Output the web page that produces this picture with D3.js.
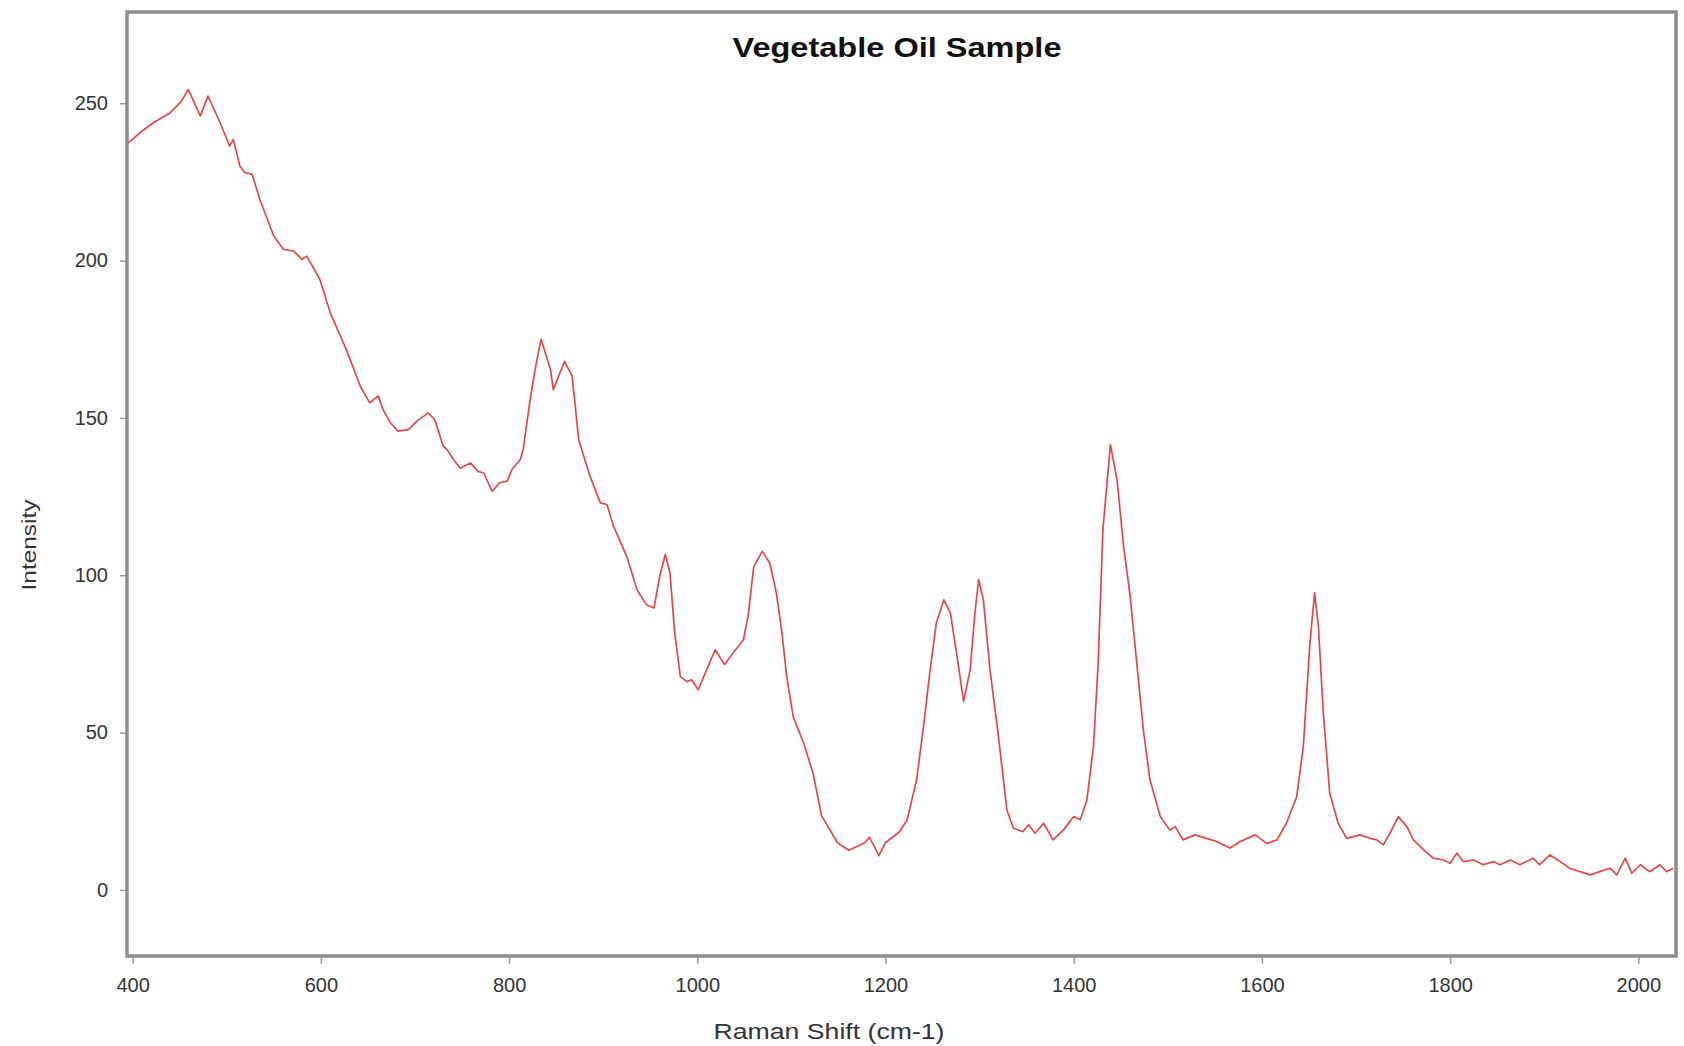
<!DOCTYPE html>
<html><head><meta charset="utf-8">
<script src="https://cdn.jsdelivr.net/npm/d3@7"></script>
<style>body{margin:0;background:#fff}svg{display:block}</style>
</head><body>
<svg id="chart" width="1684" height="1046"></svg>
<script>
const chartTitle = "Vegetable Oil Sample";
const xTitle = "Raman Shift (cm-1)";
const yTitle = "Intensity";

const ramanShift = [394,408,422,440,452,459,472,480,493,503,507,514,519,527,535,550,560,571,580,585,599,610,613,627,642,652,661,666,674,682,693,702,714,721,730,734,741,748,759,767,773,782,790,798,803,812,815,822,828,834,844,847,859,867,874,886,897,904,911,925,936,946,954,960,966,971,976,982,989,994,1001,1010,1019,1029,1038,1049,1054,1060,1069,1077,1084,1090,1095,1102,1113,1123,1132,1149,1161,1178,1183,1193,1200,1215,1223,1233,1240,1247,1254,1262,1269,1276,1283,1290,1295,1299,1304,1311,1320,1329,1336,1346,1352,1359,1368,1378,1389,1400,1407,1414,1421,1426,1431,1439,1446,1453,1460,1467,1474,1481,1492,1502,1508,1516,1529,1541,1552,1566,1577,1593,1605,1616,1626,1637,1644,1651,1656,1660,1665,1672,1681,1690,1704,1715,1722,1729,1736,1745,1754,1761,1772,1782,1793,1800,1807,1814,1825,1835,1846,1853,1864,1874,1888,1895,1906,1917,1927,1938,1949,1959,1970,1977,1986,1993,2002,2012,2023,2030,2037];
const intensity = [237,240.7,243.8,247,250.7,254.4,246,252.3,243.8,236.4,238.5,230,228,227.4,219.5,207.8,203.6,203,200.4,201.4,194,183.4,181.3,171.8,160,154.8,157,152.7,148.4,145.8,146.3,149,151.6,149.5,141,140,136.8,134,135.7,133,132.5,126.7,129.4,129.9,133.6,136.8,140,155,166,175,165.4,159,168,163.3,143,131.5,123,122.5,115.6,106,95.4,90.6,89.6,99.6,106.6,100.7,81.6,67.8,66.2,66.8,63.6,70,76.3,71.6,75.3,79.5,87,102.8,107.6,103.9,94.4,81.6,67.8,55,46.7,37.1,23.6,15,12.6,15,16.7,10.9,15,18.5,22.3,35,50.9,68.9,84.8,92.2,88,74.2,59.9,70,88,98.6,92.2,70,48.8,25.4,19.6,18.5,20.7,18,21.2,15.9,19,23.3,22.3,28.6,45.6,72.1,114.5,141.5,130.4,109.2,93.3,72.1,50.9,35,23.3,19,20.1,15.9,17.5,16.4,15.4,13.3,15.4,17.5,14.8,15.9,21.2,29.7,45.6,78.5,94.4,83.8,57.3,30.8,21.2,16.4,17.5,16.4,15.9,14.3,18,23.3,20.1,15.9,12.7,10.1,9.5,8.5,11.7,9,9.5,8,9,8,9.5,8,10.1,8,11.1,9,6.9,5.8,4.8,5.8,6.9,4.8,10.1,5.3,8,5.8,8,5.8,6.9];

const xTickValues = [400,600,800,1000,1200,1400,1600,1800,2000];
const yTickValues = [0,50,100,150,200,250];

const plot = {left:127, right:1676, top:12, bottom:956};
const FONT = "'Liberation Sans', Arial, sans-serif";

const svg = d3.select("#chart");
const x = d3.scaleLinear().domain([394, 2040]).range([plot.left, plot.right]);
const y = d3.scaleLinear().domain([-21, 279]).range([plot.bottom, plot.top]);

svg.append("defs").append("clipPath").attr("id","clip")
  .append("rect").attr("x",plot.left).attr("y",plot.top)
  .attr("width",plot.right-plot.left).attr("height",plot.bottom-plot.top);

// axes
const xAxis = svg.append("g").attr("transform",`translate(0,${plot.bottom})`)
  .call(d3.axisBottom(x).tickValues(xTickValues).tickSize(8).tickPadding(14).tickFormat(d3.format("d")));
const yAxis = svg.append("g").attr("transform",`translate(${plot.left},0)`)
  .call(d3.axisLeft(y).tickValues(yTickValues).tickSize(7).tickPadding(12).tickFormat(d3.format("d")));
[xAxis,yAxis].forEach(g=>{
  g.select(".domain").remove();
  g.selectAll(".tick line").attr("stroke","#9a9a9a").attr("stroke-width",1.5);
  g.selectAll(".tick text").attr("fill","#333").style("font-family",FONT).style("font-size","20px");
});

// line
const data = ramanShift.map((d,i)=>({x:d,y:intensity[i]}));
svg.append("path").datum(data)
  .attr("clip-path","url(#clip)")
  .attr("fill","none").attr("stroke","#e2474a").attr("stroke-width",1.7)
  .attr("stroke-linejoin","round")
  .attr("d", d3.line().x(d=>x(d.x)).y(d=>y(d.y)));

// frame
svg.append("rect").attr("x",plot.left).attr("y",plot.top)
  .attr("width",plot.right-plot.left).attr("height",plot.bottom-plot.top)
  .attr("fill","none").attr("stroke","#8c8c8c").attr("stroke-width",3.5);

// titles
svg.append("text").attr("x",897).attr("y",57).attr("text-anchor","middle")
  .style("font-family",FONT).style("font-size","27px").style("font-weight","bold")
  .attr("fill","#111").attr("textLength",329).attr("lengthAdjust","spacingAndGlyphs")
  .text(chartTitle);
svg.append("text").attr("x",829).attr("y",1039).attr("text-anchor","middle")
  .style("font-family",FONT).style("font-size","22px").attr("fill","#333")
  .attr("textLength",231).attr("lengthAdjust","spacingAndGlyphs")
  .text(xTitle);
svg.append("text").attr("transform","translate(36,545) rotate(-90)").attr("text-anchor","middle")
  .style("font-family",FONT).style("font-size","21px").attr("fill","#333")
  .attr("textLength",91).attr("lengthAdjust","spacingAndGlyphs")
  .text(yTitle);
</script>
</body></html>
